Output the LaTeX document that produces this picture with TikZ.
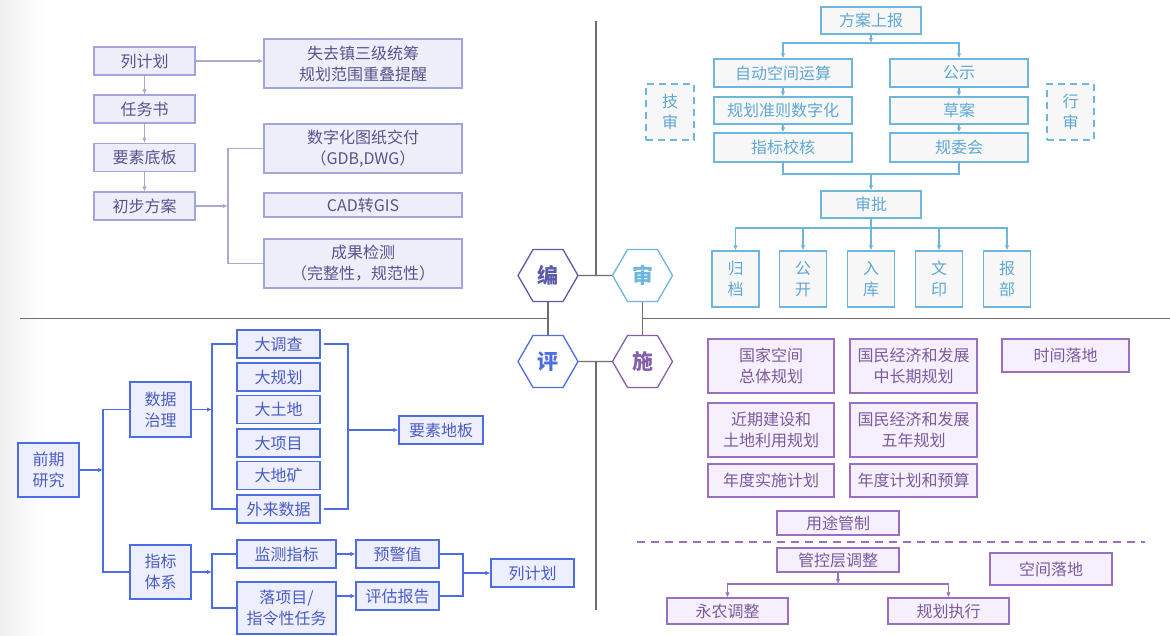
\documentclass[tikz,border=0pt]{standalone}
\usepackage{fontspec}
\setmainfont{Noto Sans CJK SC}
\usetikzlibrary{positioning,arrows.meta,shapes.geometric}
\definecolor{planline}{HTML}{A3A3DE}
\definecolor{planfill}{HTML}{EEEEFB}
\definecolor{plantext}{HTML}{55558C}
\definecolor{planarrow}{HTML}{A9A9D4}
\definecolor{bianc}{HTML}{5B5BAA}
\definecolor{techline}{HTML}{6DB6DE}
\definecolor{techfill}{HTML}{F7F7F7}
\definecolor{techtext}{HTML}{5FA8D3}
\definecolor{evalline}{HTML}{4C6EE2}
\definecolor{evalfill}{HTML}{EEEFFC}
\definecolor{evaltext}{HTML}{4A5CC4}
\definecolor{impline}{HTML}{9C6EC2}
\definecolor{impfill}{HTML}{F6EFFD}
\definecolor{imptext}{HTML}{7A5B9B}
\definecolor{shic}{HTML}{8460AA}
\definecolor{axisgray}{HTML}{6E6E6E}
\begin{document}
\begin{tikzpicture}[x=1pt, y=-1pt,
  font=\fontsize{16}{21}\selectfont,
  sz/.style 2 args={minimum width=#1pt, minimum height=#2pt},
  box/.style={draw, line width=1.1pt, align=center, inner sep=0pt},
  plan/.style={box, draw=planline, fill=planfill, text=plantext},
  tech/.style={box, draw=techline, fill=techfill, text=techtext},
  evalb/.style={box, draw=evalline, fill=evalfill, text=evaltext},
  impl/.style={box, draw=impline, fill=impfill, text=imptext},
  hexa/.style={regular polygon, regular polygon sides=6, minimum size=60pt, inner sep=0pt, line width=1.3pt, fill=white, font=\fontsize{21}{21}\selectfont\bfseries},
  arr/.style={-{Latex[length=5pt, width=4.5pt]}},
  link/.style={line width=1.1pt},
  axis/.style={draw=axisgray, line width=1.6pt}]
  \fill[white] (0,0) rectangle (1170,635);
  \shade[left color=black!6, right color=white] (0,0) rectangle (45,635);
  \useasboundingbox (0,0) rectangle (1170,635);

  \node[hexa, draw=bianc, text=bianc] (bian) at (548,275.5) {编};
  \node[hexa, draw=techline, text=techline] (shen) at (642.5,275.5) {审};
  \node[hexa, draw=evalline, text=evalline] (ping) at (548,361.5) {评};
  \node[hexa, draw=shic, text=shic] (shi) at (642.5,361.5) {施};
  \coordinate (ntop) at (596,21);
  \coordinate (nbot) at (596,610);
  \coordinate (wend) at (20,318.5);
  \coordinate (eend) at (1170,318.5);
  \draw[axis] (ntop) -- (ntop |- bian.east);
  \draw[axis] (nbot) -- (nbot |- ping.east);
  \draw[axis] (wend) -- (wend -| bian.south);
  \draw[axis] (eend) -- (eend -| shen.south);
  \draw[axis, line width=1.2pt] (bian.east) -- (shen.west);
  \draw[axis, line width=1.2pt] (ping.east) -- (shi.west);
  \draw[axis, line width=1.2pt] (bian.south) -- (ping.north);
  \draw[axis, line width=1.2pt] (shen.south) -- (shi.north);

  \node[plan, sz={101}{28}] (liejh) at (144.5,61) {列计划};
  \node[plan, sz={101}{28}] (renwu) at (144.5,109) {任务书};
  \node[plan, sz={101}{28}] (yaosu) at (144.5,157.5) {要素底板};
  \node[plan, sz={101}{28}] (chubu) at (144.5,206) {初步方案};
  \node[plan, sz={198}{49}] (shiqu) at (363,63.5) {失去镇三级统筹\\规划范围重叠提醒};
  \node[plan, sz={198}{49}] (shuzi) at (363,148.5) {数字化图纸交付\\（GDB,DWG）};
  \node[plan, sz={198}{24}] (cad) at (363,205) {CAD转GIS};
  \node[plan, sz={198}{49}] (chengg) at (363,263.5) {成果检测\\（完整性，规范性）};
  \coordinate (pbr) at (228,206);
  \draw[arr, link, planarrow] (liejh.east) -- (liejh.east -| shiqu.west);
  \draw[arr, link, planarrow] (liejh) -- (renwu);
  \draw[arr, link, planarrow] (renwu) -- (yaosu);
  \draw[arr, link, planarrow] (yaosu) -- (chubu);
  \draw[arr, link, planarrow] (chubu) -- (pbr);
  \draw[link, planarrow] (shuzi.west) -| (pbr) |- (chengg.west);

  \node[tech, sz={100}{27}] (fangan) at (871,20.5) {方案上报};
  \node[tech, sz={138}{28}] (zidong) at (783,73) {自动空间运算};
  \node[tech, sz={138}{27}] (guize) at (783,110.5) {规划准则数字化};
  \node[tech, sz={138}{29}] (jiaohe) at (783,147.5) {指标校核};
  \node[tech, sz={138}{28}] (gongshi) at (959,73) {公示};
  \node[tech, sz={138}{27}] (caoan) at (959,110.5) {草案};
  \node[tech, sz={138}{29}] (guiwei) at (959,147.5) {规委会};
  \node[tech, sz={48}{56}, dash pattern=on 7pt off 5pt] (jishen) at (670,112) {技\\审};
  \node[tech, sz={47}{56}, dash pattern=on 7pt off 5pt] (xingshen) at (1070.5,112) {行\\审};
  \node[tech, sz={100}{27}] (shenpi) at (871,204.5) {审批};
  \node[tech, sz={47}{56}] (guidang) at (735.5,279) {归\\档};
  \node[tech, sz={47}{56}] (gongkai) at (803,279) {公\\开};
  \node[tech, sz={47}{56}] (ruku) at (871,279) {入\\库};
  \node[tech, sz={47}{56}] (wenyin) at (939,279) {文\\印};
  \node[tech, sz={47}{56}] (baobu) at (1007,279) {报\\部};
  \coordinate (fbr) at (871,43);
  \coordinate (sbr) at (871,174);
  \coordinate (tbr) at (871,228);
  \draw[arr, link, techline] (fangan) -- (fbr);
  \draw[arr, link, techline] (fbr) -| (zidong);
  \draw[arr, link, techline] (fbr) -| (gongshi);
  \draw[arr, link, techline] (zidong) -- (guize);
  \draw[arr, link, techline] (guize) -- (jiaohe);
  \draw[arr, link, techline] (gongshi) -- (caoan);
  \draw[arr, link, techline] (caoan) -- (guiwei);
  \draw[link, techline] (jiaohe.south) |- (sbr) -| (guiwei.south);
  \draw[arr, link, techline] (sbr) -- (shenpi);
  \draw[link, techline] (shenpi) -- (tbr);
  \foreach \n in {guidang,gongkai,ruku,wenyin,baobu}
    \draw[arr, link, techline] (tbr) -| (\n);

  \node[evalb, sz={61}{54}] (qianqi) at (48.5,470) {前期\\研究};
  \node[evalb, sz={61}{55}] (zhili) at (160.5,409.5) {数据\\治理};
  \node[evalb, sz={61}{54}] (tixi) at (160.5,572) {指标\\体系};
  \node[evalb, sz={83}{28}] (dadiao) at (278.5,344) {大调查};
  \node[evalb, sz={83}{28}] (dagui) at (278.5,377) {大规划};
  \node[evalb, sz={83}{28}] (datu) at (278.5,409.5) {大土地};
  \node[evalb, sz={83}{28}] (daxiang) at (278.5,443) {大项目};
  \node[evalb, sz={83}{28}] (dakuang) at (278.5,475.5) {大地矿};
  \node[evalb, sz={83}{28}] (wailai) at (278.5,509) {外来数据};
  \node[evalb, sz={84}{28}] (diban) at (441,430) {要素地板};
  \node[evalb, sz={99}{28}] (jiance) at (286.5,554) {监测指标};
  \node[evalb, sz={99}{52}] (luoxm) at (286.5,608) {落项目/\\指令性任务};
  \node[evalb, sz={83}{28}] (yujing) at (397.5,554) {预警值};
  \node[evalb, sz={83}{28}] (pinggu) at (397.5,596) {评估报告};
  \node[evalb, sz={83}{28}] (liejh2) at (532.5,573) {列计划};
  \coordinate (qbr) at (103,470);
  \coordinate (dbr) at (212,409.5);
  \coordinate (ebr) at (348,430);
  \coordinate (zbr) at (212,572);
  \coordinate (ybr) at (463,573);
  \draw[arr, link, evalline] (qianqi) -- (qbr);
  \draw[link, evalline] (zhili.west) -| (qbr) |- (tixi.west);
  \draw[arr, link, evalline] (zhili) -- (dbr);
  \draw[link, evalline] (dadiao.west) -| (dbr) |- (wailai.west);
  \draw[link, evalline] ([xshift=3pt]dadiao.east) -| (ebr) |- ([xshift=3pt]wailai.east);
  \draw[arr, link, evalline] (ebr) -- (diban);
  \draw[arr, link, evalline] (tixi) -- (zbr);
  \draw[link, evalline] (jiance.west) -| (zbr) |- (luoxm.west);
  \draw[arr, link, evalline] (jiance) -- (yujing);
  \draw[arr, link, evalline] (pinggu.west -| luoxm.east) -- (pinggu.west);
  \draw[link, evalline] (yujing.east) -| (ybr) |- (pinggu.east);
  \draw[arr, link, evalline] (ybr) -- (liejh2);

  \node[impl, sz={126}{54}] (guojia) at (771,366) {国家空间\\总体规划};
  \node[impl, sz={127}{54}] (zhongchang) at (913.5,366) {国民经济和发展\\中长期规划};
  \node[impl, sz={127}{33}] (shijian) at (1065.5,355.5) {时间落地};
  \node[impl, sz={126}{54}] (jinqi) at (771,430) {近期建设和\\土地利用规划};
  \node[impl, sz={127}{54}] (wunian) at (913.5,430) {国民经济和发展\\五年规划};
  \node[impl, sz={126}{33}] (niandu) at (771,480.5) {年度实施计划};
  \node[impl, sz={127}{33}] (yusuan) at (913.5,480.5) {年度计划和预算};
  \node[impl, sz={122}{24}] (yongtu) at (838,523) {用途管制};
  \node[impl, sz={122}{24}] (guankong) at (838,560) {管控层调整};
  \node[impl, sz={122}{32}] (kongjian) at (1051,569) {空间落地};
  \node[impl, sz={121}{26}] (yongnong) at (727.5,611) {永农调整};
  \node[impl, sz={121}{26}] (zhixing) at (948.5,611) {规划执行};
  \coordinate (dl) at (637,542);
  \coordinate (dr) at (1145,542);
  \coordinate (gbr) at (838,584);
  \draw[link, impline, dash pattern=on 8pt off 6pt] (dl) -- (dr);
  \draw[arr, link, impline] (guankong) -- (gbr);
  \draw[arr, link, impline] (gbr) -| (yongnong);
  \draw[arr, link, impline] (gbr) -| (zhixing);
\end{tikzpicture}
\end{document}
